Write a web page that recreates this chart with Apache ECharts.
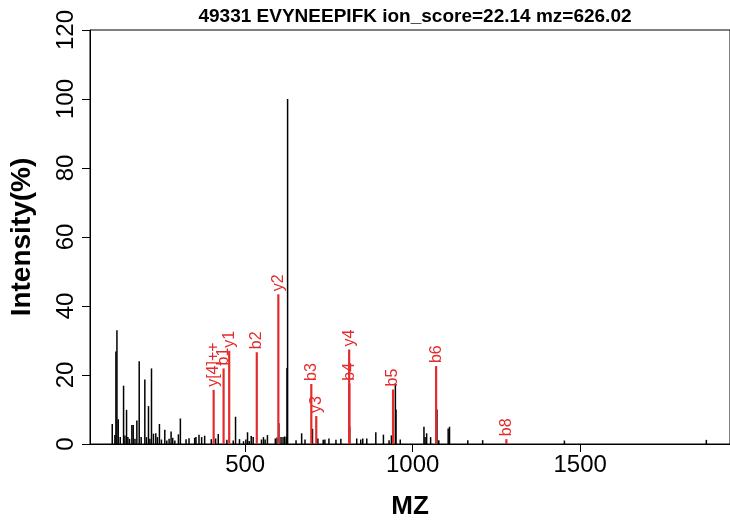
<!DOCTYPE html>
<html>
<head>
<meta charset="utf-8">
<script src="https://cdn.jsdelivr.net/npm/echarts@6/dist/echarts.min.js"></script>
<style>html,body{margin:0;padding:0;background:#fff}#c{width:730px;height:527px}</style>
</head>
<body>
<div id="c"></div>
<script>
// ---- data ----
const titleText = "49331 EVYNEEPIFK ion_score=22.14 mz=626.02";
const xTicks = [500, 1000, 1500];
const yTicks = [0, 20, 40, 60, 80, 100, 120];

const peakMz = [103.1,111,114.1,117.1,121,127,136.9,140.9,145.8,149.8,154.7,161.7,165.7,171,176.6,183.6,189.5,200.4,205.3,211.3,215.5,220.3,226.2,233.1,238,244,250,260,266,272.8,278.8,283.7,290,300.6,306.5,323.4,332.3,349.2,353,362.1,370,379,398.8,411.7,419.6,445.4,464.3,471.2,483,495,502,507,512,518,523.8,548.6,554.5,559.5,566.4,590,595,600.5,607,613,618,623,624.8,626.6,651.8,668.6,678.6,701,717,733,738,750,771,785.6,812,833,845,851,863,890,912.7,929.5,936.5,948.4,950.3,963,1033.7,1037,1041.7,1053.6,1072.5,1078,1106,1110,1164.6,1209,1453,1876.8];
const peakInt = [5.8,2.6,26.8,33.0,7.2,2.0,16.9,2.5,9.9,2.0,1.5,5.5,5.5,1.5,6.8,24.0,2.0,18.7,2.0,11.0,1.5,21.9,3.0,3.1,2.0,5.8,1.3,4.1,1.0,1.5,3.6,1.8,1.0,2.8,7.4,1.4,1.7,1.8,2.0,2.7,2.0,2.4,1.4,1.6,2.9,1.2,1.0,7.9,1.4,0.8,1.3,3.4,0.9,2.3,2.0,1.3,2.0,1.3,2.6,1.6,1.9,6.0,2.0,2.0,2.2,2.0,22.0,100,1.1,3.1,1.3,4.4,1.6,1.2,1.3,1.6,1.2,1.5,5.0,1.6,1.3,1.6,1.6,3.4,2.7,1.1,2.5,17.6,10.0,1.3,5.0,2.0,3.1,2.0,10.0,1.1,4.5,5.0,1.1,1.1,1.0,1.2];

const ionLabels = ["y[4]++","b1","y1","b2","y2","b3","y3","b4","y4","b5","b6","b8"];
const ionMz  = [405.8,435.5,452.3,534.6,599.0,697.4,712.2,811.0,810.4,941.4,1070.0,1279.8];
const ionInt = [15.7,21.9,27.0,26.6,43.4,17.4,8.1,17.5,27.4,15.8,22.6,1.4];

// ---- chart ----
const RED = '#e32b2b';
const FONT = '"Liberation Sans", Arial, Helvetica, sans-serif';
const chart = echarts.init(document.getElementById('c'), null, {renderer: 'canvas'});

function stick(color, width, withLabel) {
  return function (params, api) {
    const x = api.value(0), y = api.value(1);
    const p0 = api.coord([x, 0]);
    const p1 = api.coord([x, y]);
    const children = [{
      type: 'line',
      shape: {x1: p0[0], y1: p0[1], x2: p1[0], y2: p1[1]},
      style: {stroke: color, lineWidth: width}
    }];
    if (withLabel) {
      children.push({
        type: 'text',
        x: p1[0], y: p1[1] - 3,
        rotation: Math.PI / 2,
        style: {text: ionLabels[params.dataIndex], fill: RED, font: '16px ' + FONT, align: 'left', verticalAlign: 'middle'}
      });
    }
    return {type: 'group', children: children};
  };
}

chart.setOption({
  animation: false,
  backgroundColor: '#fff',
  title: {
    text: titleText,
    left: 410, top: 2, textAlign: 'center',
    textStyle: {fontFamily: FONT, fontSize: 19, fontWeight: 'bold', color: '#000'}
  },
  grid: {left: 90, right: -2, top: 30, bottom: 83, show: true, borderColor: '#000', borderWidth: 1},
  xAxis: {
    type: 'value', min: 36.7, max: 1947.4,
    name: 'MZ', nameLocation: 'middle', nameGap: 50,
    nameTextStyle: {fontFamily: FONT, fontSize: 26, fontWeight: 'bold', color: '#000'},
    axisLine: {show: true, onZero: false, lineStyle: {color: '#000', width: 1}},
    axisTick: {show: true, length: 8, customValues: xTicks, lineStyle: {color: '#000'}},
    axisLabel: {customValues: xTicks, formatter: v => String(v), fontFamily: FONT, fontSize: 24, color: '#000', margin: 9},
    splitLine: {show: false}
  },
  yAxis: {
    type: 'value', min: 0, max: 120, interval: 20,
    name: 'Intensity(%)', nameLocation: 'middle', nameGap: 54, nameRotate: 90,
    nameTextStyle: {fontFamily: FONT, fontSize: 28, fontWeight: 'bold', color: '#000'},
    axisLine: {show: true, lineStyle: {color: '#000', width: 1}},
    axisTick: {show: true, length: 8, lineStyle: {color: '#000'}},
    axisLabel: {rotate: 90, formatter: v => String(v), fontFamily: FONT, fontSize: 24, color: '#000', margin: 12},
    splitLine: {show: false}
  },
  series: [
    {
      type: 'custom', name: 'peaks',
      data: peakMz.map((m, i) => [m, peakInt[i]]),
      encode: {x: 0, y: 1},
      renderItem: stick('#000', 1.5, false)
    },
    {
      type: 'custom', name: 'ions',
      data: ionMz.map((m, i) => [m, ionInt[i]]),
      encode: {x: 0, y: 1},
      renderItem: stick(RED, 2.2, true)
    }
  ]
});
</script>
</body>
</html>
